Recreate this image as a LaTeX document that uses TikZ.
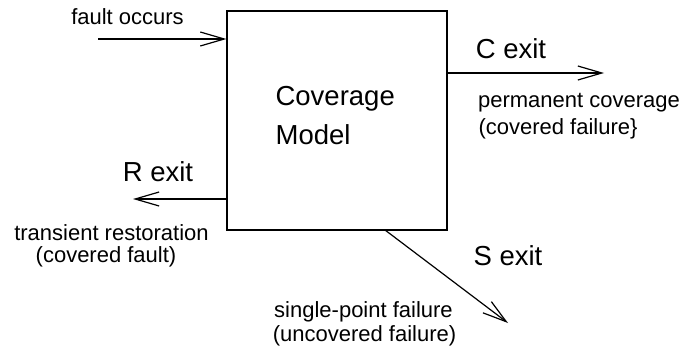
\documentclass[tikz,border=0pt]{standalone}
\usepackage{fontspec}
\setmainfont{Liberation Sans}
\usetikzlibrary{arrows.meta}
\begin{document}
\begin{tikzpicture}[x=1pt,y=-1pt,
  line width=1.2pt,
  flow/.style={-{Straight Barb[length=24pt,width=14pt]}},
  big/.style={font=\fontsize{27.5}{33}\selectfont, inner sep=0pt, anchor=base},
  small/.style={font=\fontsize{22}{26}\selectfont, inner sep=0pt, anchor=base},
  modelbox/.style={draw, minimum width=220pt, minimum height=219pt, inner sep=0pt}]
  \useasboundingbox (0,0) rectangle (691,356);

  % the model block
  \node[modelbox] (box) at (337,120.5) {};
  \node[big, anchor=base west] (title) at (275,105) {Coverage};
  \node[big, anchor=base west] (title2) at (275,144) {Model};

  % entry
  \coordinate (faultin) at (98,39);
  \draw[flow] (faultin) -- (faultin -| box.west);
  \node[small] (lfault) at (127.5,24) {fault occurs};

  % C exit
  \coordinate (cexit) at (604,73);
  \draw[flow] (box.east |- cexit) -- (cexit);
  \node[big] (lc) at (511,58) {C exit};
  \node[small] (lc1) at (579,107) {permanent coverage};
  \node[small] (lc2) at (558,134) {(covered failure\}};

  % R exit
  \coordinate (rexit) at (133,199);
  \draw[flow] (box.west |- rexit) -- (rexit);
  \node[big] (lr) at (158,181.5) {R exit};
  \node[small] (lr1) at (111.5,240) {transient restoration};
  \node[small] (lr2) at (106,262) {(covered fault)};

  % S exit
  \coordinate (sfrom) at (385,230);
  \coordinate (sexit) at (508,323);
  \draw[flow] (sfrom) -- (sexit);
  \node[big] (ls) at (508,265) {S exit};
  \node[small] (ls1) at (363.5,317) {single-point failure};
  \node[small] (ls2) at (364.5,341) {(uncovered failure)};
\end{tikzpicture}
\end{document}
